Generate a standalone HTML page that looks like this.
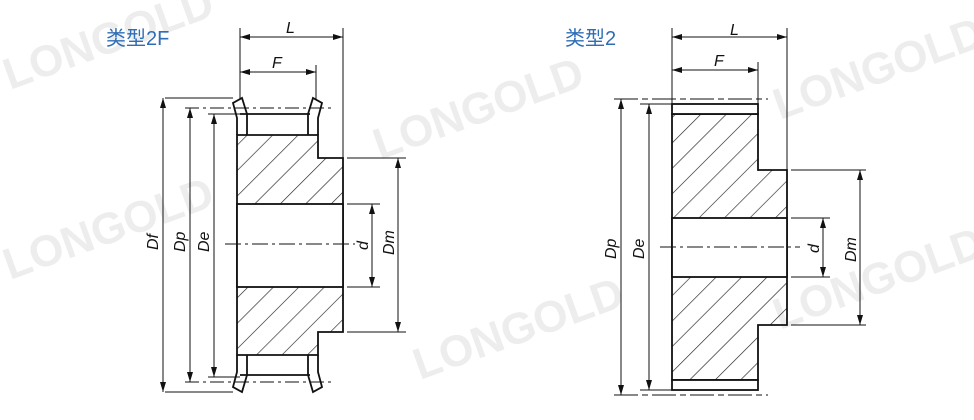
<!DOCTYPE html>
<html><head><meta charset="utf-8"><style>
html,body{margin:0;padding:0;background:#fff;}
svg{display:block;}
</style></head><body>
<svg width="974" height="420" viewBox="0 0 974 420" xmlns="http://www.w3.org/2000/svg">
<defs>
<pattern id="h" patternUnits="userSpaceOnUse" width="18" height="18" patternTransform="rotate(45)">
<line x1="0" y1="0" x2="0" y2="18" stroke="#222" stroke-width="1.3"/>
</pattern>
<marker id="a" markerWidth="10" markerHeight="6" refX="10" refY="3" orient="auto-start-reverse" markerUnits="userSpaceOnUse">
<path d="M0,0 L10,3 L0,6 z" fill="#111"/>
</marker>
</defs>
<g font-family="Liberation Sans, sans-serif" font-size="44" font-weight="bold" fill="#ededed">
<text x="10" y="90" transform="rotate(-20 10 90)">LONGOLD</text>
<text x="10" y="280" transform="rotate(-20 10 280)">LONGOLD</text>
<text x="380" y="160" transform="rotate(-20 380 160)">LONGOLD</text>
<text x="420" y="380" transform="rotate(-20 420 380)">LONGOLD</text>
<text x="780" y="120" transform="rotate(-20 780 120)">LONGOLD</text>
<text x="780" y="330" transform="rotate(-20 780 330)">LONGOLD</text>
</g>
<g font-family="Liberation Sans, 'Noto Sans CJK SC', sans-serif" font-size="20" fill="#2f6db6">
<text x="106" y="45">类型2F</text>
<text x="565" y="45">类型2</text>
</g>

<!-- LEFT DRAWING -->
<g stroke="#111" fill="none" stroke-width="1.8">
<path d="M237,135 H318 V158 H343 V332 H318 V355 H237 Z" fill="url(#h)"/>
<rect x="237" y="204" width="106" height="83" fill="#fff"/>
<line x1="240" y1="114" x2="310" y2="114"/>
<line x1="240" y1="375" x2="310" y2="375"/>
<path d="M237,135 L237,118 L233,103 L242,98 L247,114 L247,135"/>
<path d="M318,135 L318,118 L322,103 L313,98 L308,114 L308,135"/>
<path d="M237,355 L237,372 L233,387 L242,392 L247,375 L247,355"/>
<path d="M318,355 L318,372 L322,387 L313,392 L308,375 L308,355"/>
</g>
<g stroke="#111" stroke-width="1" fill="none">
<line x1="240" y1="28" x2="240" y2="100"/>
<line x1="343" y1="28" x2="343" y2="158"/>
<line x1="316" y1="65" x2="316" y2="100"/>
<line x1="240" y1="37" x2="343" y2="37" marker-start="url(#a)" marker-end="url(#a)"/>
<line x1="240" y1="72" x2="316" y2="72" marker-start="url(#a)" marker-end="url(#a)"/>
<line x1="165" y1="98" x2="233" y2="98"/>
<line x1="185" y1="108" x2="335" y2="108" stroke-dasharray="14,4,3,4"/>
<line x1="208" y1="114" x2="240" y2="114"/>
<line x1="165" y1="392" x2="233" y2="392"/>
<line x1="185" y1="382" x2="335" y2="382" stroke-dasharray="14,4,3,4"/>
<line x1="208" y1="377" x2="240" y2="377"/>
<line x1="163" y1="98" x2="163" y2="392" marker-start="url(#a)" marker-end="url(#a)"/>
<line x1="190" y1="108" x2="190" y2="382" marker-start="url(#a)" marker-end="url(#a)"/>
<line x1="214" y1="114" x2="214" y2="377" marker-start="url(#a)" marker-end="url(#a)"/>
<line x1="347" y1="158" x2="406" y2="158"/>
<line x1="347" y1="332" x2="406" y2="332"/>
<line x1="398" y1="158" x2="398" y2="332" marker-start="url(#a)" marker-end="url(#a)"/>
<line x1="347" y1="204" x2="380" y2="204"/>
<line x1="347" y1="287" x2="380" y2="287"/>
<line x1="372" y1="204" x2="372" y2="287" marker-start="url(#a)" marker-end="url(#a)"/>
<line x1="225" y1="244" x2="355" y2="244" stroke-dasharray="16,4,3,4"/>
</g>
<g font-family="Liberation Sans, sans-serif" font-style="italic" font-size="16" fill="#111">
<text x="286" y="33">L</text>
<text x="272" y="68">F</text>
<text transform="translate(158,250) rotate(-90)">Df</text>
<text transform="translate(185,252) rotate(-90)">Dp</text>
<text transform="translate(209,252) rotate(-90)">De</text>
<text transform="translate(368,250) rotate(-90)">d</text>
<text transform="translate(394,255) rotate(-90)">Dm</text>
</g>

<!-- RIGHT DRAWING -->
<g stroke="#111" fill="none" stroke-width="1.8">
<path d="M672,114 H758 V170 H787 V325 H758 V380 H672 Z" fill="url(#h)"/>
<rect x="672" y="218" width="115" height="59" fill="#fff"/>
<rect x="672" y="104" width="86" height="10" fill="#fff"/>
<rect x="672" y="380" width="86" height="10" fill="#fff"/>
</g>
<g stroke="#111" stroke-width="1" fill="none">
<line x1="672" y1="28" x2="672" y2="104"/>
<line x1="787" y1="28" x2="787" y2="170"/>
<line x1="758" y1="62" x2="758" y2="104"/>
<line x1="672" y1="37" x2="787" y2="37" marker-start="url(#a)" marker-end="url(#a)"/>
<line x1="672" y1="70" x2="758" y2="70" marker-start="url(#a)" marker-end="url(#a)"/>
<line x1="614" y1="99" x2="768" y2="99" stroke-dasharray="24,4,6,4"/>
<line x1="640" y1="104" x2="672" y2="104"/>
<line x1="614" y1="395" x2="768" y2="395" stroke-dasharray="24,4,6,4"/>
<line x1="640" y1="390" x2="672" y2="390"/>
<line x1="621" y1="99" x2="621" y2="395" marker-start="url(#a)" marker-end="url(#a)"/>
<line x1="649" y1="104" x2="649" y2="390" marker-start="url(#a)" marker-end="url(#a)"/>
<line x1="791" y1="170" x2="866" y2="170"/>
<line x1="791" y1="325" x2="866" y2="325"/>
<line x1="860" y1="170" x2="860" y2="325" marker-start="url(#a)" marker-end="url(#a)"/>
<line x1="791" y1="218" x2="830" y2="218"/>
<line x1="791" y1="277" x2="830" y2="277"/>
<line x1="823" y1="218" x2="823" y2="277" marker-start="url(#a)" marker-end="url(#a)"/>
<line x1="660" y1="247" x2="800" y2="247" stroke-dasharray="16,4,3,4"/>
</g>
<g font-family="Liberation Sans, sans-serif" font-style="italic" font-size="16" fill="#111">
<text x="730" y="35">L</text>
<text x="714" y="66">F</text>
<text transform="translate(616,259) rotate(-90)">Dp</text>
<text transform="translate(644,259) rotate(-90)">De</text>
<text transform="translate(819,253) rotate(-90)">d</text>
<text transform="translate(856,262) rotate(-90)">Dm</text>
</g>
</svg>
</body></html>
